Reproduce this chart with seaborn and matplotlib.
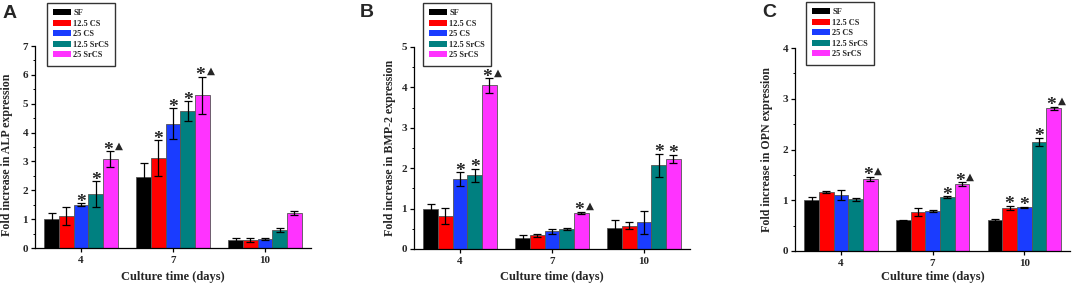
import numpy as np
import pandas as pd
import matplotlib
matplotlib.use("Agg")
import matplotlib.pyplot as plt
import seaborn as sns
from matplotlib.patches import Patch
from matplotlib.ticker import MultipleLocator

# ---------------- data ----------------
days = ["4", "7", "10"]
groups = ["SF", "12.5 CS", "25 CS", "12.5 SrCS", "25 SrCS"]
colors = ["#000000", "#ff0000", "#1a3cff", "#008080", "#ff33ff"]

# rows = groups, columns = days
alp_mean = [[1.01, 2.45, 0.29],
            [1.10, 3.11, 0.29],
            [1.50, 4.31, 0.32],
            [1.87, 4.74, 0.63],
            [3.07, 5.29, 1.21]]
alp_err = [[0.20, 0.50, 0.07],
           [0.31, 0.63, 0.07],
           [0.05, 0.54, 0.03],
           [0.45, 0.35, 0.07],
           [0.28, 0.65, 0.08]]
alp_sig = [["", "", ""],
           ["", "*", ""],
           ["*", "*", ""],
           ["*", "*", ""],
           ["*▲", "*▲", ""]]

bmp_mean = [[1.00, 0.27, 0.52],
            [0.82, 0.34, 0.58],
            [1.73, 0.44, 0.66],
            [1.82, 0.49, 2.07],
            [4.05, 0.89, 2.23]]
bmp_err = [[0.12, 0.07, 0.19],
           [0.20, 0.04, 0.08],
           [0.17, 0.06, 0.28],
           [0.17, 0.02, 0.29],
           [0.18, 0.03, 0.10]]
bmp_sig = [["", "", ""],
           ["", "", ""],
           ["*", "", ""],
           ["*", "", "*"],
           ["*▲", "*▲", "*"]]

opn_mean = [[1.00, 0.61, 0.61],
            [1.16, 0.76, 0.85],
            [1.10, 0.79, 0.86],
            [1.02, 1.06, 2.15],
            [1.42, 1.32, 2.81]]
opn_err = [[0.07, 0.01, 0.03],
           [0.02, 0.08, 0.04],
           [0.10, 0.02, 0.01],
           [0.03, 0.02, 0.08],
           [0.04, 0.03, 0.03]]
opn_sig = [["", "", ""],
           ["", "", "*"],
           ["", "", "*"],
           ["", "*", "*"],
           ["*▲", "*▲", "*▲"]]

panel_letters = ["A", "B", "C"]
ylabels = ["Fold increase in ALP expression",
           "Fold increase in BMP-2 expression",
           "Fold increase in OPN expression"]
ymax = [7, 5, 4]
xlabel = "Culture time (days)"

# ---------------- style ----------------
sns.set_theme(style="ticks")
plt.rcParams["font.family"] = ["Liberation Serif", "DejaVu Sans"]
plt.rcParams["font.weight"] = "bold"

W, H = 1072, 289
fig = plt.figure(figsize=(W / 100, H / 100), dpi=100)

# pixel boxes: left, right, top, bottom
boxes = [(35, 311, 46, 248), (414, 690, 47, 249), (795, 1070, 48, 251)]
legend_pos = [(47, 3), (423, 3), (806, 2)]
letter_pos = [(3, 5), (360, 4), (762, 4)]
ylab_x = [13, 396, 773]
ylab_y = [0.46, 0.5, 0.5]

datasets = [(alp_mean, alp_err, alp_sig), (bmp_mean, bmp_err, bmp_sig),
            (opn_mean, opn_err, opn_sig)]

for i, (means, errs, sigs) in enumerate(datasets):
    l, r, t, b = boxes[i]
    ax = fig.add_axes([l / W, 1 - b / H, (r - l) / W, (b - t) / H])
    rows = []
    for g, gname in enumerate(groups):
        for d, day in enumerate(days):
            rows.append({"day": day, "group": gname, "value": means[g][d]})
    df = pd.DataFrame(rows)
    sns.barplot(data=df, x="day", y="value", hue="group", order=days,
                hue_order=groups, palette=colors, errorbar=None, width=0.8,
                edgecolor="#555555", linewidth=0.6, ax=ax, legend=False,
                saturation=1)
    bar_conts = list(ax.containers)
    for g, cont in enumerate(bar_conts):
        for d, patch in enumerate(cont):
            cx = patch.get_x() + patch.get_width() / 2
            h = patch.get_height()
            ax.errorbar(cx, h, yerr=errs[g][d], color="black", lw=0.9,
                        capsize=2.6, capthick=0.9, zorder=5)
            s = sigs[g][d]
            top = h + errs[g][d]
            if s == "*":
                ax.annotate("*", (cx, top), xytext=(0, -2.5),
                            textcoords="offset points", ha="center",
                            va="baseline", fontsize=14, fontweight="bold",
                            family="Liberation Serif")
            elif s == "*▲":
                ax.annotate("*", (cx, top), xytext=(-1.5, -2.5),
                            textcoords="offset points", ha="center",
                            va="baseline", fontsize=14, fontweight="bold",
                            family="Liberation Serif")
                ax.annotate("▲", (cx, top), xytext=(5.8, 2.0),
                            textcoords="offset points", ha="center",
                            va="baseline", fontsize=7.5,
                            family="DejaVu Sans")
    ax.set_xlim(-0.5, 2.5)
    ax.set_ylim(0, ymax[i])
    ax.set_yticks(range(0, ymax[i] + 1))
    ax.yaxis.set_minor_locator(MultipleLocator(0.5))
    sns.despine(ax=ax)
    for sp in ("left", "bottom"):
        ax.spines[sp].set_linewidth(0.9)
        ax.spines[sp].set_color("black")
    ax.tick_params(axis="both", which="major", length=3, width=0.9,
                   labelsize=8, pad=2, color="black", direction="out")
    ax.tick_params(axis="x", which="major", pad=3)
    ax.tick_params(axis="y", which="minor", length=1.8, width=0.7,
                   color="black", direction="out")
    for lab in ax.get_xticklabels() + ax.get_yticklabels():
        lab.set_fontweight("bold")
        lab.set_family("Liberation Serif")
    ax.set_xlabel(xlabel, fontsize=9, fontweight="bold", family="Liberation Serif")
    ax.set_ylabel(ylabels[i], fontsize=8.6, fontweight="bold", family="Liberation Serif")
    ax.xaxis.set_label_coords(0.5, (b - 271) / (b - t))
    ax.yaxis.set_label_coords((ylab_x[i] - l) / (r - l), ylab_y[i])

    handles = [Patch(facecolor=c, edgecolor="none") for c in colors]
    lx, ly = legend_pos[i]
    leg = ax.legend(handles, groups, loc="upper left",
                    bbox_to_anchor=(lx / W, 1 - ly / H),
                    bbox_transform=fig.transFigure, borderaxespad=0,
                    prop={"family": "Liberation Serif", "weight": "bold",
                          "size": 6},
                    handlelength=2.1, handleheight=0.7, handletextpad=0.3,
                    labelspacing=0.3, borderpad=0.75, fancybox=False,
                    frameon=True)
    leg.get_frame().set_edgecolor("black")
    leg.get_frame().set_linewidth(1.0)
    leg.set_zorder(10)

    px, py = letter_pos[i]
    fig.text(px / W, 1 - py / H, panel_letters[i], fontsize=14,
             fontweight="bold", family="Liberation Sans", va="top", ha="left")

fig.savefig("out.png", dpi=100)
